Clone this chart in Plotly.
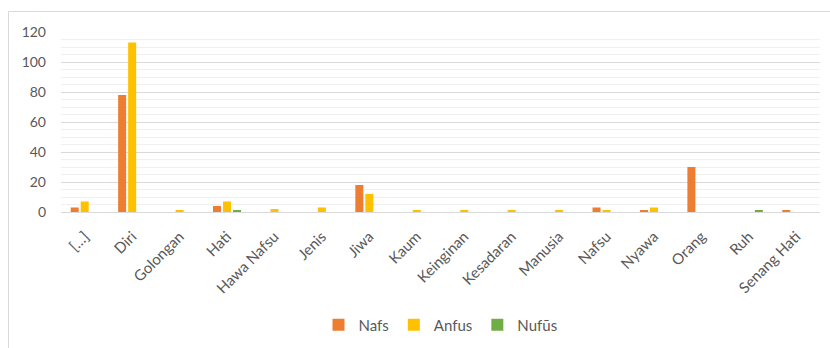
import plotly.graph_objects as go

categories = ["[…]", "Diri", "Golongan", "Hati", "Hawa Nafsu", "Jenis", "Jiwa", "Kaum",
              "Keinginan", "Kesadaran", "Manusia", "Nafsu", "Nyawa", "Orang", "Ruh", "Senang Hati"]
nafs  = [3, 78, 0, 4, 0, 0, 18, 0, 0, 0, 0, 3, 1, 30, 0, 1]
anfus = [7, 113, 1, 7, 2, 3, 12, 1, 1, 1, 1, 1, 3, 0, 0, 0]
nufus = [0, 0, 0, 1, 0, 0, 0, 0, 0, 0, 0, 0, 0, 0, 1, 0]
y_ticks = [0, 20, 40, 60, 80, 100, 120]

FONT = "Lato"
W, H = 830, 348
L, R, T, B = 61, 10, 32, 136

fig = go.Figure()
for name, vals, col in [("Nafs", nafs, "#ED7D31"), ("Anfus", anfus, "#FFC000"), ("Nufūs", nufus, "#70AD47")]:
    fig.add_trace(go.Bar(x=categories, y=vals, name=name, marker=dict(color=col, line=dict(width=0))))

fig.update_layout(
    width=W, height=H,
    margin=dict(l=L, r=R, t=T, b=B, autoexpand=False),
    paper_bgcolor="white", plot_bgcolor="white",
    barmode="group", bargap=0.367, bargroupgap=0.2,
    font=dict(family=FONT, size=15, color="#595959"),
    legend=dict(orientation="h", x=0.5, xanchor="center", y=-0.628, yanchor="middle",
                font=dict(family=FONT, size=15, color="#595959"), itemwidth=30, traceorder="normal"),
    showlegend=True,
)
fig.update_xaxes(tickangle=-45, showgrid=False, showline=True, linecolor="#D9D9D9", linewidth=1,
                 ticks="", ticklabelstandoff=9,
                 tickfont=dict(family=FONT, size=15, color="#595959"))
fig.update_yaxes(range=[0, 120], tickvals=y_ticks, showgrid=True, gridcolor="#D9D9D9", gridwidth=1,
                 minor=dict(dtick=5, showgrid=True, gridcolor="#F0F0F0", gridwidth=1),
                 zeroline=False, showline=False, ticks="", ticklabelstandoff=14,
                 tickfont=dict(family=FONT, size=14, color="#595959"))

pw = W - L - R
ph = H - T - B
x0 = (8.5 - L) / pw
y1 = (H - B - 11.5) / ph
fig.add_shape(type="rect", xref="paper", yref="paper", x0=x0, x1=(W + 20 - L) / pw,
              y0=(H - B - (H + 20)) / ph, y1=y1, line=dict(color="#D9D9D9", width=1), layer="below")

fig.write_html("out.html")
